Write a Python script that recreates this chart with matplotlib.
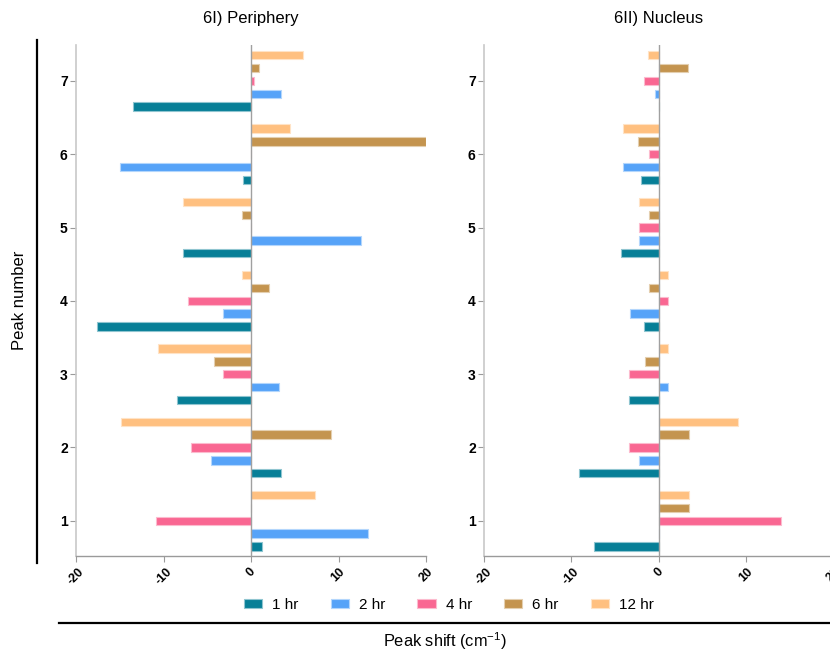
import matplotlib
matplotlib.use("Agg")
import matplotlib.pyplot as plt
import matplotlib.colors as mcolors
from matplotlib.patches import Patch
from matplotlib.lines import Line2D
import numpy as np

plt.rcParams['font.family'] = ['Liberation Sans', 'DejaVu Sans']
plt.rcParams['mathtext.fontset'] = 'custom'
plt.rcParams['mathtext.rm'] = 'Liberation Sans'
plt.rcParams['mathtext.it'] = 'Liberation Sans:italic'

peaks = [1, 2, 3, 4, 5, 6, 7]
series = ['1 hr', '2 hr', '4 hr', '6 hr', '12 hr']
colors = ['#077f97', '#56a3f8', '#f96792', '#c4944f', '#ffc080']

# Peak shifts (cm^-1), one list per time point, ordered by peak 1..7
periphery = {
    '1 hr':  [1.2, 3.45, -8.5, -17.6, -7.75, -0.9, -13.5],
    '2 hr':  [13.4, -4.55, 3.2, -3.2, 12.6, -15.0, 3.4],
    '4 hr':  [-10.9, -6.85, -3.2, -7.2, 0.0, 0.0, 0.3],
    '6 hr':  [0.0, 9.15, -4.25, 2.1, -1.0, 20.0, 0.9],
    '12 hr': [7.35, -14.85, -10.6, -1.0, -7.75, 4.45, 5.9],
}
nucleus = {
    '1 hr':  [-7.35, -9.15, -3.4, -1.7, -4.25, -2.05, 0.0],
    '2 hr':  [0.0, -2.2, 1.1, -3.25, -2.2, -4.1, -0.35],
    '4 hr':  [14.0, -3.4, -3.4, 1.1, -2.2, -1.05, -1.7],
    '6 hr':  [3.55, 3.45, -1.6, -1.1, -1.1, -2.3, 3.35],
    '12 hr': [3.55, 9.15, 1.1, 1.1, -2.2, -4.1, -1.25],
}
titles = ['6I) Periphery', '6II) Nucleus']
xticks = [-20, -10, 0, 10, 20]
xtick_labels = ['-20', '-10', '0', '10', '20']

W, H = 830, 654
fig = plt.figure(figsize=(W / 100, H / 100), dpi=100)

offsets = [-0.35, -0.175, 0.0, 0.175, 0.35]
bar_h = 0.115

def lighter(c, f=0.55):
    r, g, b = mcolors.to_rgb(c)
    return (r + (1 - r) * f, g + (1 - g) * f, b + (1 - b) * f)

panel_px = [(76, 426), (484, 833)]
top_px, bot_px = 45, 556
for (x0, x1), data, title in zip(panel_px, [periphery, nucleus], titles):
    ax = fig.add_axes([x0 / W, (H - bot_px) / H, (x1 - x0) / W, (bot_px - top_px) / H])
    y = np.array(peaks, dtype=float)
    for s, c, off in zip(series, colors, offsets):
        ax.barh(y + off, data[s], height=bar_h, color=c,
                edgecolor=lighter(c), linewidth=0.8, zorder=2)
    ax.axvline(0, color='#a0a0a0', lw=1.0, zorder=3)
    ax.set_xlim(-20, 20)
    ax.set_ylim(0.52, 7.49)
    ax.set_xticks(xticks)
    ax.set_xticklabels(xtick_labels, rotation=45, ha='center', va='top',
                       fontsize=9, fontweight='bold')
    ax.set_yticks(peaks)
    ax.set_yticklabels([str(p) for p in peaks], fontsize=10, fontweight='bold')
    for side in ['top', 'right']:
        ax.spines[side].set_visible(False)
    ax.spines['left'].set_color('#c8c8c8')
    ax.spines['left'].set_linewidth(1.2)
    ax.spines['bottom'].set_color('#9a9a9a')
    ax.spines['bottom'].set_linewidth(1.0)
    ax.tick_params(axis='y', length=4, width=0.8, color='#9a9a9a', pad=2)
    ax.tick_params(axis='x', length=4, width=0.8, color='#9a9a9a', pad=3)
    cx = (x0 + 175) / W
    fig.text(cx, (H - 18) / H, title, ha='center', va='center', fontsize=12)

# Framing rules for the shared axis titles
fig.add_artist(Line2D([37 / W, 37 / W], [(H - 40) / H, (H - 563) / H],
                      color='black', lw=1.6, transform=fig.transFigure))
fig.add_artist(Line2D([59 / W, 830 / W], [(H - 623) / H, (H - 623) / H],
                      color='black', lw=1.6, transform=fig.transFigure))
fig.text(20 / W, (H - 300) / H, 'Peak number', rotation=90, ha='center',
         va='center', fontsize=12)
fig.text(445 / W, (H - 641) / H, r'Peak shift (cm$^{\mathregular{-1}}$)', ha='center',
         va='center', fontsize=11.8)

handles = [Patch(facecolor=c, edgecolor=lighter(c), linewidth=0.8) for c in colors]
fig.legend(handles, series, loc='center', bbox_to_anchor=(449 / W, (H - 605) / H),
           ncol=5, frameon=False, fontsize=11, handlelength=1.2, handleheight=0.55,
           columnspacing=2.1, handletextpad=0.65)

fig.savefig('out.png', dpi=100)
